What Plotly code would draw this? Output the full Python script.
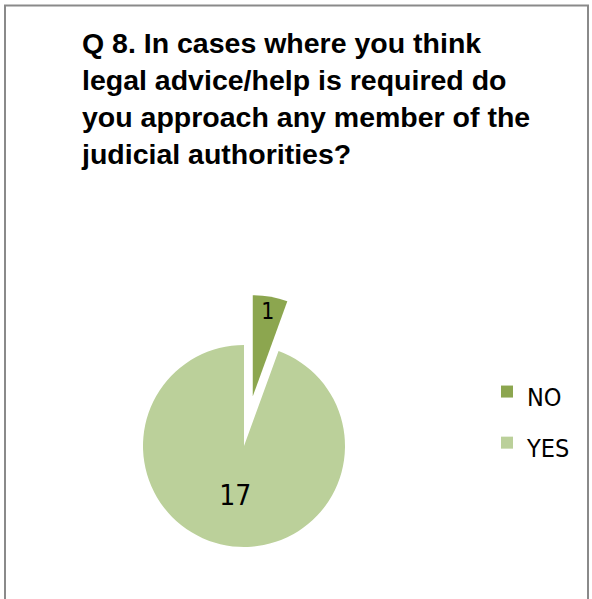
import plotly.graph_objects as go

labels = ["NO", "YES"]
values = [1, 17]
colors = ["#8CA64F", "#BBD09A"]
pulls = [0.5, 0]
title_lines = ["Q 8. In cases where you think",
               "legal advice/help is required do",
               "you approach any member of the",
               "judicial authorities?"]

W, H = 592, 599
NARROW = "'Liberation Sans Narrow', 'DejaVu Sans Condensed', 'Roboto Condensed', 'Liberation Sans', Arial, sans-serif"
legend_labels = ['<span style="font-size:25px">%s</span>' % l for l in labels]

fig = go.Figure(go.Pie(
    labels=legend_labels,
    values=values,
    sort=False,
    direction="clockwise",
    rotation=0,
    pull=pulls,
    marker=dict(colors=colors, line=dict(width=0)),
    textinfo="value",
    textposition="inside",
    insidetextorientation="horizontal",
    textfont=dict(family=NARROW, size=28, color="black"),
    domain=dict(x=[92.5 / W, 395.5 / W], y=[1.5 / H, 304.5 / H]),
    hoverinfo="skip",
))

fig.update_layout(
    width=W, height=H,
    margin=dict(l=0, r=0, t=0, b=0),
    paper_bgcolor="white",
    plot_bgcolor="white",
    title=dict(
        text="<br>".join(title_lines),
        font=dict(family="'Liberation Sans', Arial, sans-serif", size=28.5, color="black", weight="bold"),
        x=82 / W, xanchor="left", xref="container",
        y=1 - 53 / H, yanchor="top", yref="container",
    ),
    legend=dict(
        x=487 / W, xanchor="left",
        y=1 - 361 / H, yanchor="top",
        font=dict(family=NARROW, size=37, color="black"),
        bgcolor="rgba(0,0,0,0)",
    ),
    showlegend=True,
    shapes=[dict(type="rect", xref="paper", yref="paper",
                 x0=5 / W, x1=588 / W, y0=-0.05, y1=1 - 5.5 / H,
                 line=dict(color="#8a8a8a", width=2), fillcolor="rgba(0,0,0,0)")],
)

fig.write_html("out.html")
